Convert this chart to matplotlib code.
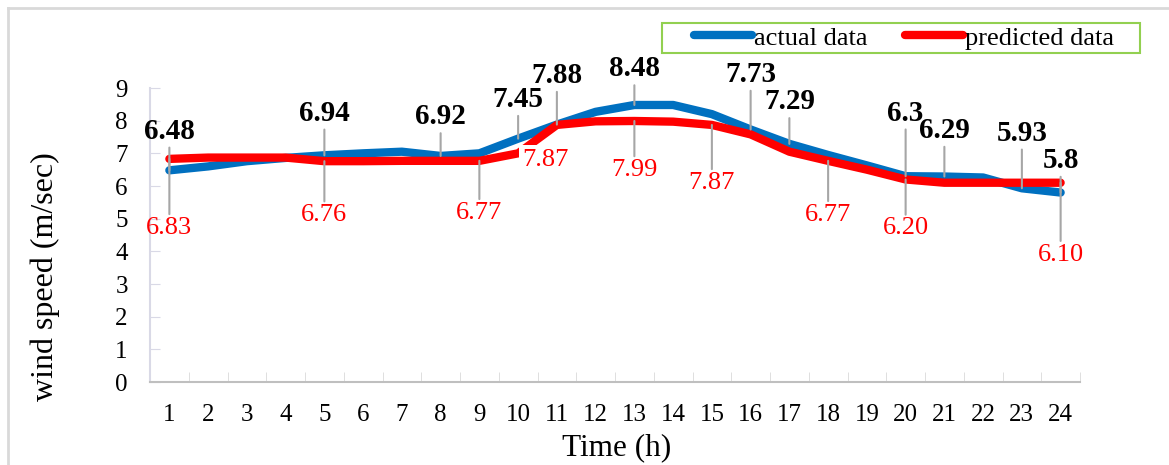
import matplotlib
matplotlib.use("Agg")
import matplotlib.pyplot as plt
from matplotlib.lines import Line2D
from matplotlib.patches import Rectangle

plt.rcParams['font.family'] = ['Liberation Serif', 'DejaVu Serif']

hours = list(range(1, 25))
actual = [6.48, 6.60, 6.76, 6.86, 6.94, 7.00, 7.05, 6.92, 7.00, 7.45, 7.88, 8.27,
          8.48, 8.48, 8.20, 7.73, 7.29, 6.95, 6.63, 6.30, 6.29, 6.26, 5.93, 5.80]
predicted = [6.83, 6.87, 6.87, 6.87, 6.76, 6.76, 6.77, 6.77, 6.77, 7.00, 7.87, 7.98,
             7.99, 7.97, 7.87, 7.58, 7.05, 6.77, 6.50, 6.20, 6.10, 6.10, 6.10, 6.10]

# hours that carry a data label
actual_labelled = [1, 5, 8, 10, 11, 13, 16, 17, 20, 21, 23, 24]
predicted_labelled = [1, 5, 9, 11, 13, 15, 18, 20, 24]

# label offsets in pixels (dx, dy)
actual_offsets = {1: (0, 39), 5: (0, 42), 8: (0, 39), 10: (0, 39), 11: (0, 49),
                  13: (0, 36), 16: (0, 55), 17: (0, 42), 20: (0, 63), 21: (0, 46),
                  23: (0, 55), 24: (0, 32)}
predicted_offsets = {1: (0, -69), 5: (0, -54), 9: (0, -52), 11: (-11, -35),
                     13: (0, -49), 15: (0, -58), 18: (0, -54), 20: (0, -49),
                     24: (0, -72)}

blue = '#0070C0'
red = '#FF0000'
lead = '#A6A6A6'

fig = plt.figure(figsize=(11.69, 4.65), dpi=100)
ax = fig.add_axes([150 / 1169, 1 - 382 / 465, 930 / 1169, 294 / 465])

ax.plot(hours, actual, color=blue, lw=6, solid_capstyle='round', solid_joinstyle='round', zorder=2)
ax.plot(hours, predicted, color=red, lw=6, solid_capstyle='round', solid_joinstyle='round', zorder=2.1)

for h in actual_labelled:
    v = actual[h - 1]
    ax.annotate(f"{v:g}", xy=(h, v), xytext=actual_offsets[h], textcoords='offset pixels',
                ha='center', va='center', fontsize=21, fontweight='bold', color='black',
                arrowprops=dict(arrowstyle='-', color=lead, lw=1.5, shrinkA=0, shrinkB=0),
                zorder=5)

for h in predicted_labelled:
    v = predicted[h - 1]
    dx, dy = predicted_offsets[h]
    if dx != 0:
        ax.annotate(f"{v:.2f}", xy=(h, v), xytext=(dx, dy), textcoords='offset pixels',
                    ha='center', va='center', fontsize=19, color=red,
                    bbox=dict(boxstyle='square,pad=0.15', fc='white', ec='none'), zorder=5)
    else:
        ax.annotate(f"{v:.2f}", xy=(h, v), xytext=(dx, dy), textcoords='offset pixels',
                    ha='center', va='center', fontsize=19, color=red,
                    arrowprops=dict(arrowstyle='-', color=lead, lw=1.5, shrinkA=0, shrinkB=0),
                    zorder=5)

ax.set_xlim(0.5, 24.5)
ax.set_ylim(0, 9)
ax.set_xticks(hours)
ax.set_xticks([h + 0.5 for h in range(0, 25)], minor=True)
ax.set_yticks(range(0, 10))
ax.tick_params(axis='x', which='major', length=0, pad=16, labelsize=18)
ax.tick_params(axis='x', which='minor', direction='in', length=7, color='#D9D9D9')
ax.tick_params(axis='y', direction='in', length=7, color='#D9D9E6', pad=16, labelsize=18)

for s in ['top', 'right']:
    ax.spines[s].set_visible(False)
ax.spines['left'].set_color('#D9D9E6')
ax.spines['left'].set_linewidth(1.5)
ax.spines['bottom'].set_color('#BFBFBF')
ax.spines['bottom'].set_linewidth(1.5)

fig.text(45 / 1169, 1 - 277 / 465, 'wind speed (m/sec)', rotation=90,
         ha='center', va='center', fontsize=23)
fig.text(617 / 1169, 1 - 448 / 465, 'Time (h)', ha='center', va='center', fontsize=22.5)

# legend: frame drawn separately so it can be wider than its entries
fig.add_artist(Rectangle((662 / 1169, 1 - 53 / 465), 478 / 1169, 30 / 465,
                         transform=fig.transFigure, fill=False, ec='#92D050', lw=1.5))
handles = [Line2D([], [], color=blue, lw=6, solid_capstyle='round'),
           Line2D([], [], color=red, lw=6, solid_capstyle='round')]
fig.legend(handles, ['actual data', 'predicted data'], loc='center',
           bbox_to_anchor=(904 / 1169, 1 - 38 / 465), ncol=2, fontsize=19,
           frameon=False, handlelength=2.2, handletextpad=0.1, columnspacing=1.4,
           borderpad=0, borderaxespad=0)

# outer chart border (top and left visible)
fig.add_artist(Line2D([8 / 1169, 8 / 1169], [0, 1 - 8 / 465], color='#D9D9D9', lw=2,
                      transform=fig.transFigure))
fig.add_artist(Line2D([8 / 1169, 1], [1 - 8 / 465, 1 - 8 / 465], color='#D9D9D9', lw=2,
                      transform=fig.transFigure))

fig.savefig('out.png', dpi=100)
